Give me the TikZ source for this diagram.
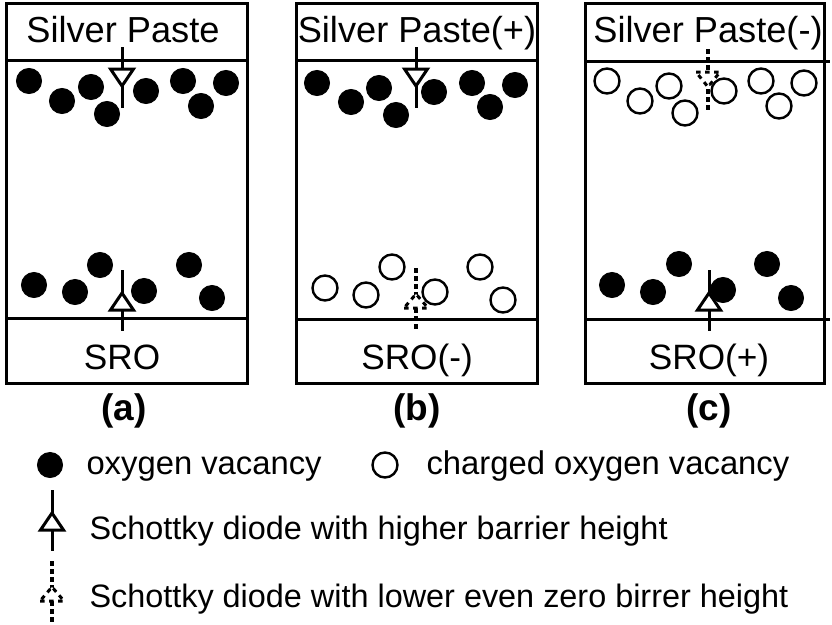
\documentclass[tikz,border=0pt]{standalone}
\usepackage{fontspec}
\setmainfont{Liberation Sans}
\begin{document}
\begin{tikzpicture}[x=1pt, y=-1pt, line width=3pt,
    vacancy/.style={fill=black, draw=black, line width=1pt},
    charged/.style={fill=white, draw=black, line width=2.4pt},
    layer/.style={font=\fontsize{36.2}{40}\selectfont, inner sep=0pt, anchor=base},
    layersmall/.style={font=\fontsize{35.2}{38}\selectfont, inner sep=0pt, anchor=base},
    panel/.style={font=\bfseries\fontsize{37}{40}\selectfont, inner sep=0pt, anchor=base},
    legend/.style={font=\fontsize{32.8}{36}\selectfont, inner sep=0pt, anchor=base west},
    legendsmall/.style={font=\fontsize{32.4}{36}\selectfont, inner sep=0pt, anchor=base west},
    dashline/.style={dash pattern=on 5pt off 3pt, line width=3.2pt},
    dashtri/.style={dash pattern=on 4.5pt off 4.5pt, line width=3pt, fill=white}]

    \useasboundingbox (0,0) rectangle (832,624);
    \fill[white] (0,0) rectangle (832,624);

    % 1. Cajas
    \draw (6,3) rectangle (247,383);
    \draw (6,60) -- (247,60);
    \draw (6,318) -- (247,318);

    \draw (296,3) rectangle (537,383);
    \draw (296,60) -- (537,60);
    \draw (296,319) -- (537,319);

    \draw (585,3) rectangle (824,383);
    \draw (587,61) -- (830,61);
    \draw (587,319) -- (830,319);

    % 2. Textos de las capas
    \node[layer] (pasteA) at (123,42) {Silver Paste};
    \node[layer] (pasteB) at (417,42) {Silver Paste(+)};
    \node[layer] (pasteC) at (708,42) {Silver Paste(-)};
    \node[layersmall] (sroA) at (122,369) {SRO};
    \node[layersmall] (sroB) at (417,369) {SRO(-)};
    \node[layersmall] (sroC) at (709,369) {SRO(+)};

    % 3. Vacancias
    \foreach \x/\y in {29/81,62/101,91/87,107/114,146/91,183/81,201/106,226/83,
                       34/285,75/292,100/265,144/291,189/265,212/298,
                       317/83,351/102,379/88,396/115,434/92,472/83,490/107,515/85,
                       612/285,653/292,679/264,723/290,767/264,791/298} {
        \draw[vacancy] (\x,\y) circle (12.5);
    }
    \foreach \x/\y in {325/288,366/295,392/267,435/292,480/267,503/300,
                       607/81,640/101,669/86,685/113,724/91,761/81,779/106,804/83} {
        \draw[charged] (\x,\y) circle (12.5);
    }

    % 4. Diodos con barrera alta
    \foreach \x in {122,416} {
        \draw (\x,47) -- (\x,108);
        \draw[fill=white] (\x-11.5,69) -- (\x+11.5,69) -- (\x,86) -- cycle;
    }
    \foreach \x/\y in {122/270,709/270,52/490} {
        \draw (\x,\y) -- (\x,\y+61);
        \draw[fill=white] (\x-11.5,\y+40) -- (\x+11.5,\y+40) -- (\x,\y+23) -- cycle;
    }

    % 5. Diodos con barrera baja
    \draw[dashline] (708,49) -- (708,112);
    \draw[dashtri] (696,72) -- (720,72) -- (708,87) -- cycle;
    \foreach \x/\y in {416/268,52/561} {
        \draw[dashline] (\x,\y) -- (\x,\y+62);
        \draw[dashtri] (\x-12,\y+40) -- (\x+12,\y+40) -- (\x,\y+26) -- cycle;
    }

    % 6. Rótulos (a), (b), (c)
    \node[panel] (labelA) at (124,420) {(a)};
    \node[panel] (labelB) at (417,420) {(b)};
    \node[panel] (labelC) at (709,420) {(c)};

    % 7. Leyenda
    \draw[vacancy] (50,465) circle (12.5);
    \draw[charged] (385,465) circle (12.5);
    \node[legend] (keyVacancy) at (85,474) {oxygen vacancy};
    \node[legend] (keyCharged) at (425,474) {charged oxygen vacancy};
    \node[legendsmall] (keyHigh) at (88,539) {Schottky diode with higher barrier height};
    \node[legendsmall] (keyLow) at (88,607) {Schottky diode with lower even zero birrer height};

\end{tikzpicture}
\end{document}
